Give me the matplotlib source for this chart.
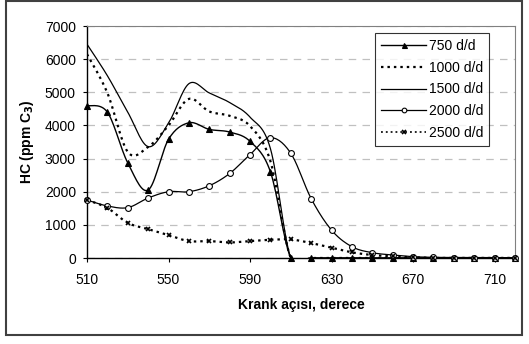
import numpy as np
import matplotlib
matplotlib.use("Agg")
import matplotlib.pyplot as plt
from matplotlib.lines import Line2D
from matplotlib.patches import Rectangle

plt.rcParams["font.family"] = ["Liberation Sans", "DejaVu Sans"]

# krank açısı (derece)
aci = [510, 520, 530, 540, 550, 560, 570, 580, 590, 600, 610,
       620, 630, 640, 650, 660, 670, 680, 690, 700, 710, 720]

hc_750 = [4600, 4400, 2870, 2050, 3580, 4080, 3880, 3800, 3520, 2600, 0,
          0, 0, 0, 0, 0, 0, 0, 0, 0, 0, 0]
hc_1000 = [6150, 4980, 3200, 3350, 4000, 4800, 4420, 4290, 3980, 2920, 0,
           0, 0, 0, 0, 0, 0, 0, 0, 0, 0, 0]
hc_1500 = [6450, 5500, 4400, 3360, 4070, 5260, 4980, 4690, 4250, 3300, 0,
           0, 0, 0, 0, 0, 0, 0, 0, 0, 0, 0]
hc_2000 = [1750, 1570, 1520, 1810, 2000, 2000, 2180, 2550, 3120, 3630, 3160,
           1790, 840, 340, 160, 90, 40, 20, 15, 10, 10, 10]
hc_2500 = [1750, 1510, 1060, 870, 690, 510, 510, 470, 510, 550, 560,
           450, 310, 170, 90, 50, 20, 0, 0, 0, 0, 0]

etiketler = ["750 d/d", "1000 d/d", "1500 d/d", "2000 d/d", "2500 d/d"]


def excel_smooth(x, y, n=16):
    # Excel "düzgün çizgi" benzeri bezier (catmull-rom)
    x = np.asarray(x, float)
    y = np.asarray(y, float)
    P = np.column_stack([x, y])
    P = np.vstack([P[0], P, P[-1]])
    t = np.linspace(0, 1, n, endpoint=False)[:, None]
    out = []
    for i in range(1, len(P) - 2):
        p0, p3 = P[i], P[i + 1]
        p1 = p0 + (P[i + 1] - P[i - 1]) / 6
        p2 = p3 - (P[i + 2] - P[i]) / 6
        seg = ((1 - t) ** 3) * p0 + 3 * ((1 - t) ** 2) * t * p1 \
            + 3 * (1 - t) * t ** 2 * p2 + t ** 3 * p3
        out.append(seg)
    out.append(P[-2][None, :])
    out = np.vstack(out)
    return out[:, 0], out[:, 1]


fig = plt.figure(figsize=(5.29, 3.44), dpi=100)
ax = fig.add_axes([87 / 529, 86 / 344, 428 / 529, 232 / 344])

stiller = [
    dict(ls="-", lw=1.0, marker="^", ms=4.5, mfc="k", mec="k", mew=0.8),
    dict(ls=(0, (1.1, 1.8)), lw=1.6, marker=None),
    dict(ls="-", lw=0.9, marker=None),
    dict(ls="-", lw=0.9, marker="o", ms=4.2, mfc="white", mec="k", mew=0.8),
    dict(ls=(0, (1.1, 1.8)), lw=1.6, marker="x", ms=3.5, mfc="k", mec="k", mew=1.2),
]
seriler = [hc_750, hc_1000, hc_1500, hc_2000, hc_2500]

handles = []
for y, st in zip(seriler, stiller):
    sx, sy = excel_smooth(aci, y)
    ax.plot(sx, sy, color="k", ls=st["ls"], lw=st["lw"], zorder=3)
    if st["marker"]:
        ax.plot(aci, y, ls="none", marker=st["marker"], ms=st["ms"],
                mfc=st["mfc"], mec=st["mec"], mew=st["mew"], clip_on=False, zorder=4)
        handles.append(Line2D([], [], color="k", ls=st["ls"], lw=min(st["lw"], 1.2),
                              marker=st["marker"], ms=st["ms"] * 0.8, mfc=st["mfc"],
                              mec=st["mec"], mew=st["mew"]))
    else:
        handles.append(Line2D([], [], color="k", ls=st["ls"], lw=st["lw"]))

ax.set_xlim(510, 720)
ax.set_ylim(0, 7000)
ax.set_xticks(np.arange(510, 720, 40))
ax.set_yticks(np.arange(0, 7001, 1000))
ax.yaxis.grid(True, ls=(0, (6, 5)), color="#c0c0c0", lw=0.9)
ax.set_axisbelow(True)
ax.tick_params(axis="both", direction="out", length=3, width=0.8, labelsize=10, colors="k")
ax.tick_params(axis="x", pad=8)
ax.tick_params(axis="y", pad=5)
for s in ["top", "right"]:
    ax.spines[s].set_color("#808080")
    ax.spines[s].set_linewidth(0.8)
for s in ["left", "bottom"]:
    ax.spines[s].set_color("k")
    ax.spines[s].set_linewidth(1.0)

ax.set_xlabel("Krank açısı, derece", fontsize=10, fontweight="bold", labelpad=8)
ax.set_ylabel("HC (ppm C$_\\mathbf{3}$)", fontsize=10, fontweight="bold", labelpad=6)

leg = ax.legend(handles, etiketler, loc="upper left", bbox_to_anchor=(0.673, 0.970),
                borderaxespad=0, fontsize=10, frameon=True, fancybox=False,
                edgecolor="k", handlelength=3.2, handletextpad=0.2,
                labelspacing=0.55, borderpad=0.45)
leg.get_frame().set_linewidth(0.8)
leg.set_zorder(5)

fig.patches.append(Rectangle((6 / 529, 9 / 344), 516 / 529, 334 / 344,
                             transform=fig.transFigure, fill=False,
                             edgecolor="#404040", lw=1.5))

fig.savefig("out.png", dpi=100)
